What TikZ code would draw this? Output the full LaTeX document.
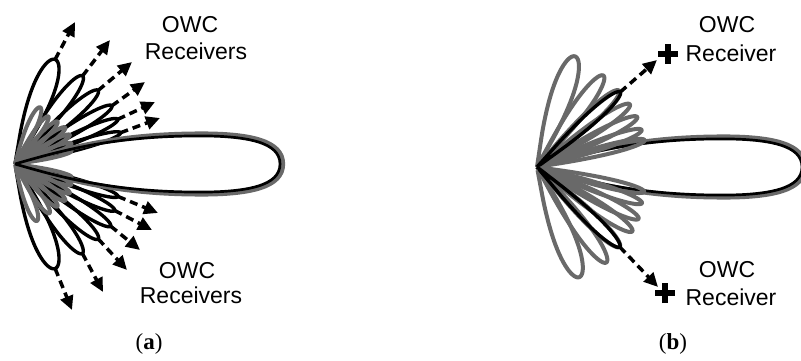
\documentclass[tikz,border=0pt]{standalone}
\usepackage{fontspec}
\newfontfamily\arialf{Liberation Sans}
\newfontfamily\capfont{Liberation Serif}
\usetikzlibrary{arrows.meta,calc}
\definecolor{lobegray}{RGB}{105,105,105}
\newcommand\petal[4]{\draw[#1] plot[domain=-1:1,samples=41,smooth] ({-(#2)+(#4)*\x}:{(#3)*sqrt(max(cos(90*\x),0))});}
\tikzset{
  blk/.style={draw=black, line width=3.4pt, line join=round},
  gry/.style={draw=lobegray, line width=4pt, line join=round},
  dasharrow/.style={line width=3.5pt, dash pattern=on 8pt off 5pt, -{Triangle[length=14pt,width=13pt]}},
  lbl/.style={font=\arialf\fontsize{23}{23}\selectfont, anchor=base, inner sep=0pt},
  capt/.style={font=\capfont\fontsize{23}{23}\selectfont, anchor=base, inner sep=0pt},
  plusbar/.style={line width=6.5pt},
  mainlobe/.pic={
    \draw[gry, line width=5pt, xscale=1.01, yscale=1.07] (0,0) .. controls (45,-13) and (95,-27) .. (175,-28) .. controls (235,-29) and (265,-21) .. (265,0) .. controls (265,21) and (235,29) .. (175,28) .. controls (95,27) and (45,13) .. (0,0);
    \draw[blk, line width=2.7pt] (0,0) .. controls (45,-13) and (95,-27) .. (175,-28) .. controls (235,-29) and (265,-21) .. (265,0) .. controls (265,21) and (235,29) .. (175,28) .. controls (95,27) and (45,13) .. (0,0);
  }
}
\begin{document}
\begin{tikzpicture}[x=1pt,y=-1pt]
\useasboundingbox[fill=white] (0,0) rectangle (801,361);

% ---------------- panel (a) ----------------
\begin{scope}[shift={(15,164)}]
  \foreach \a/\L/\d in {69/112/12, 52.5/111/8, 41.5/111/7, 31/113/6, 23.5/112/5.5, 16.5/110/5,
                        -69/112/12, -53/112/8, -42/112/7, -33/114/6, -25/110/5.5, -17.5/108/5}
    {\petal{blk}{\a}{\L}{\d}}
  \foreach \a/\L/\d in {66/62/9, 55/58/7, 45/60/7, 36/62/7, 28/62/6, 20/60/6, 13/58/5,
                        -69/61/9, -55/60/8, -45/60/7, -36/62/7, -28/62/6, -20/60/6, -13/58/5}
    {\petal{gry}{\a}{\L}{\d}}
  \pic {mainlobe};
  \coordinate (ta1) at (-69:112);
  \coordinate (ta2) at (-52.5:111);
  \coordinate (ta3) at (-41.5:111);
  \coordinate (ta4) at (-31:113);
  \coordinate (ta5) at (-23.5:112);
  \coordinate (ta6) at (-16.5:110);
  \coordinate (tb1) at (69:112);
  \coordinate (tb2) at (53:112);
  \coordinate (tb3) at (42:112);
  \coordinate (tb4) at (33:114);
  \coordinate (tb5) at (25:110);
  \coordinate (tb6) at (17.5:108);
\end{scope}
\coordinate (ea1) at (75,22);
\coordinate (ea2) at (110,40);
\coordinate (ea3) at (132,62);
\coordinate (ea4) at (145,82);
\coordinate (ea5) at (155,102);
\coordinate (ea6) at (160,118);
\coordinate (eb1) at (72,310);
\coordinate (eb2) at (103,292);
\coordinate (eb3) at (127,270);
\coordinate (eb4) at (140,250);
\coordinate (eb5) at (152,230);
\coordinate (eb6) at (158,213);
\foreach \i in {1,...,6}{
  \draw[dasharrow] (ta\i) -- (ea\i);
  \draw[dasharrow] (tb\i) -- (eb\i);
}
\node[lbl] (owcA1) at (190,33) {OWC};
\node[lbl] (recA1) at (196,60) {Receivers};
\node[lbl] (owcA2) at (187,278) {OWC};
\node[lbl] (recA2) at (191,303) {Receivers};
\node[capt] (capA) at (149,349) {(\textbf{a})};

% ---------------- panel (b) ----------------
\begin{scope}[shift={(537,167)}]
  \pic {mainlobe};
  \foreach \a/\L/\d in {71/117/11, 54/113/8, 43/112/7, 34/112/6.5, 26.5/112/6, 19.5/111/5.5, 14/111/5,
                        -69/118/11, -54/118/8, -44/115/7, -34/115/6.5, -27/114/6, -19/111/5.5, -13/110/5}
    {\petal{gry}{\a}{\L}{\d}}
  \petal{blk}{42}{112}{6.5}
  \petal{blk}{-44}{115}{6.5}
  \coordinate (tc) at (-42:112);
  \coordinate (td) at (44:115);
\end{scope}
\coordinate (ec) at (657,60);
\coordinate (ed) at (658,287);
\draw[dasharrow] (tc) -- (ec);
\draw[dasharrow] (td) -- (ed);
\coordinate (plusC) at (668,54);
\coordinate (plusD) at (665,293);
\foreach \p in {plusC,plusD}{
  \draw[plusbar] ([xshift=-10pt]\p) -- ([xshift=10pt]\p);
  \draw[plusbar] ([yshift=-10pt]\p) -- ([yshift=10pt]\p);
}
\node[lbl] (owcB1) at (727,33) {OWC};
\node[lbl] (recB1) at (731,62) {Receiver};
\node[lbl] (owcB2) at (727,277) {OWC};
\node[lbl] (recB2) at (731,305) {Receiver};
\node[capt] (capB) at (673,349) {(\textbf{b})};
\end{tikzpicture}
\end{document}
